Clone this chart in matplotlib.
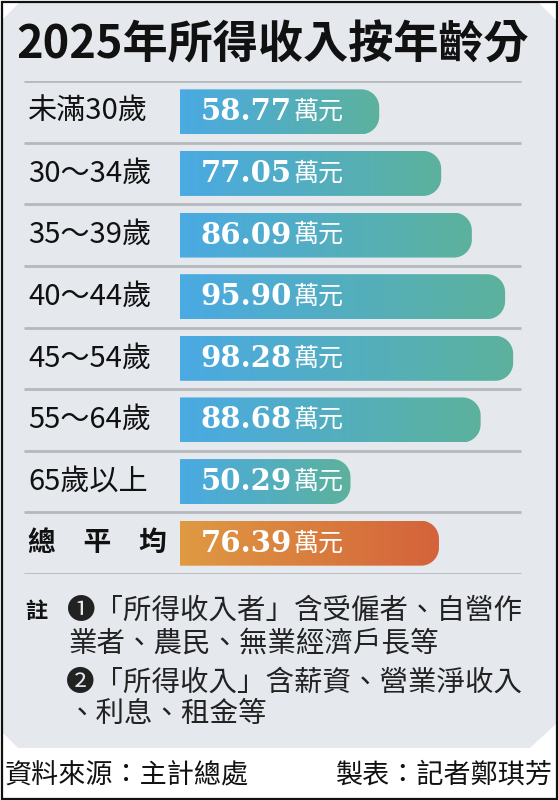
import matplotlib
matplotlib.use("Agg")
import matplotlib.pyplot as plt
import numpy as np
from matplotlib.colors import LinearSegmentedColormap
from matplotlib.patches import Polygon, PathPatch, Rectangle
from matplotlib.path import Path
import matplotlib.transforms as mtransforms

plt.rcParams['font.family'] = ['Noto Sans CJK TC', 'DejaVu Sans']

# data
title = "2025年所得收入按年齡分"
groups = ["未滿30歲", "30～34歲", "35～39歲", "40～44歲", "45～54歲", "55～64歲", "65歲以上", "總　平　均"]
income = [58.77, 77.05, 86.09, 95.90, 98.28, 88.68, 50.29, 76.39]
unit = "萬元"
note_head = "註"
notes = ["❶「所得收入者」含受僱者、自營作",
         "業者、農民、無業經濟戶長等",
         "❷「所得收入」含薪資、營業淨收入",
         "、利息、租金等"]
source = "資料來源：主計總處"
credit = "製表：記者鄭琪芳"

W, H = 558, 800
fig = plt.figure(figsize=(W / 100, H / 100), dpi=100)
fig.patch.set_facecolor("white")

# background axes in pixel units
bg = fig.add_axes([0, 0, 1, 1])
bg.set_xlim(0, W)
bg.set_ylim(H, 0)
bg.axis("off")

panel = Polygon([(2, 20), (20, 2), (538, 2), (556, 20), (556, 724), (530, 748),
                 (18, 748), (2, 732)], closed=True, facecolor="#e5e9ee", edgecolor="none")
bg.add_patch(panel)
bg.add_patch(Rectangle((1.5, 1.5), W - 3, H - 3, facecolor="none", edgecolor="#111111", lw=1.6))

bg.text(273, 45, title, ha="center", va="center", fontsize=32.5, weight="heavy", color="#111111")

# bars
top_px, bot_px = 81, 574
x0_px, px_per_unit = 180, 3.39
ax = fig.add_axes([0, 1 - bot_px / H, 1, (bot_px - top_px) / H])
ax.axis("off")
xlim = (-x0_px / px_per_unit, (W - x0_px) / px_per_unit)
ylim = (len(groups) - 0.5, -0.5)

blend = mtransforms.blended_transform_factory(bg.transData, ax.transData)
ax.hlines(np.arange(len(groups) + 1) - 0.5, 24, 521, transform=blend, color="#b5b9be", lw=2)

h = 0.73
r_px = 18
rx, ry = r_px / px_per_unit, r_px / ((bot_px - top_px) / len(groups))
blue = LinearSegmentedColormap.from_list("b", ["#4aaae3", "#5cb29c"])
orange = LinearSegmentedColormap.from_list("o", ["#df9a42", "#d4623b"])
grad = np.linspace(0, 1, 256).reshape(1, -1)
t = np.linspace(0, np.pi / 2, 20)

for i, (g, v) in enumerate(zip(groups, income)):
    yt, yb = i - h / 2, i + h / 2
    verts = [(0, yt), (v - rx, yt)]
    verts += list(zip(v - rx + rx * np.sin(t), yt + ry - ry * np.cos(t)))
    verts += list(zip(v - rx + rx * np.cos(t), yb - ry + ry * np.sin(t)))
    verts += [(0, yb), (0, yt)]
    path = Path(verts)
    patch = PathPatch(path, facecolor="none", edgecolor="none")
    ax.add_patch(patch)
    last = i == len(groups) - 1
    cmap = orange if last else blue
    im = ax.imshow(grad, extent=(0, v, yb, yt), aspect="auto", cmap=cmap,
                   interpolation="bicubic")
    im.set_clip_path(patch)

    ax.text(28, i, g, transform=blend, ha="left", va="center",
            fontsize=20 if last else 21,
            weight="bold" if last else "normal", color="#111111")
    num = ax.annotate(f"{v:.2f}", xy=(0, i), xytext=(15, 0), textcoords="offset points",
                      ha="left", va="center", fontsize=21, color="white",
                      family="DejaVu Serif", weight="bold")
    ax.annotate(unit, xy=(1, 0.5), xycoords=num, xytext=(1, 0), textcoords="offset points",
                ha="left", va="center", fontsize=18, color="white")

ax.set_xlim(*xlim)
ax.set_ylim(*ylim)

# notes
bg.text(25, 611, note_head, ha="left", va="center", fontsize=16, weight="bold", color="#111111")
for txt, (x, y) in zip(notes, [(66, 611), (68, 644), (66, 683), (68, 714)]):
    bg.text(x, y, txt, ha="left", va="center", fontsize=20.5, color="#222222")

bg.text(5, 775, source, ha="left", va="center", fontsize=19.5, color="#111111")
bg.text(553, 775, credit, ha="right", va="center", fontsize=19.5, color="#111111")

fig.savefig("out.png", dpi=100)
